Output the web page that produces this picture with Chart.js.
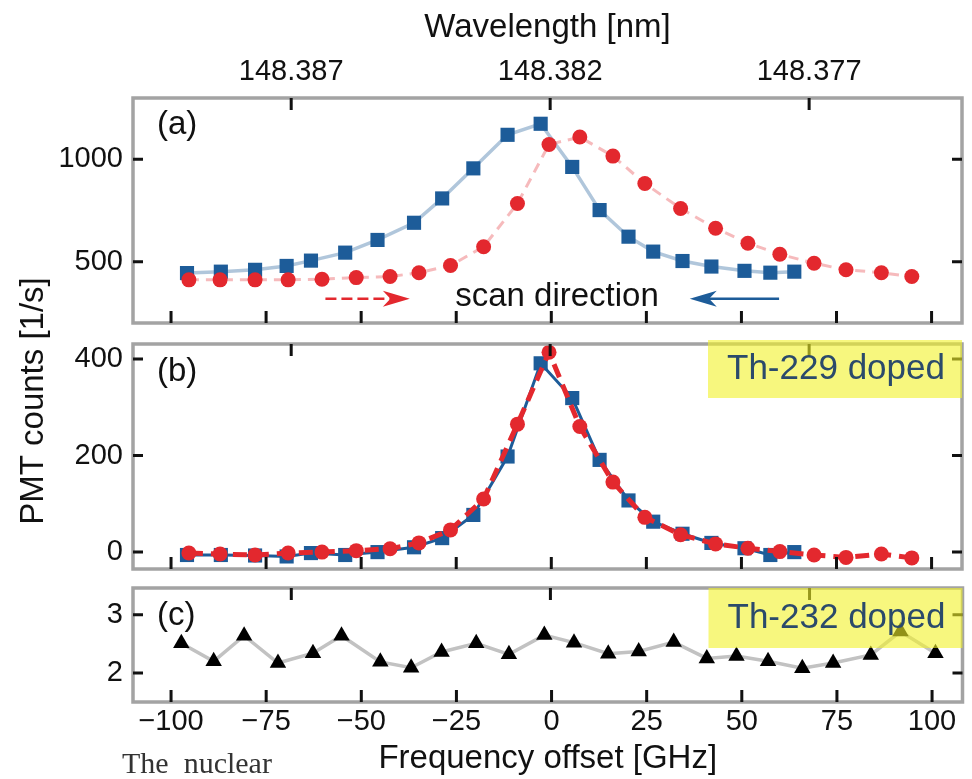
<!DOCTYPE html>
<html>
<head>
<meta charset="utf-8">
<title>PMT counts vs frequency offset</title>
<script src="https://cdn.jsdelivr.net/npm/chart.js"></script>
<style>
    html, body { margin: 0; padding: 0; background: #fff; }
    #stage { position: relative; width: 972px; height: 779px; overflow: hidden; }
    #stage canvas { position: absolute; left: 0; top: 0; }
</style>
</head>
<body>
<div id="stage">
    <canvas id="panelA" width="972" height="779"></canvas>
    <canvas id="panelB" width="972" height="779"></canvas>
    <canvas id="panelC" width="972" height="779"></canvas>
</div>
<script>
// ==========================================
// DATA
// ==========================================

// frequency offset axis [GHz]
const freqRange = [-110, 108];
const freqTicks = [-100, -75, -50, -25, 0, 25, 50, 75, 100];

// secondary wavelength axis: labels and where they fall on the GHz scale
const wavelengthLabels = ['148.387', '148.382', '148.377'];
const wavelengthOffsets = [-68.4, -0.3, 67.8];

// scan points, blue = downward scan, red = upward scan
const freqBlue = [-95.8, -86.9, -77.9, -69.6, -63.2, -54.2, -45.7, -36.1, -28.7, -20.5, -11.5,
    -2.8, 5.5, 12.7, 20.3, 26.8, 34.5, 42.1, 50.8, 57.6, 63.9];
const freqRed = [-95.3, -87.1, -77.9, -69.2, -60.3, -51.3, -42.4, -34.8, -26.5, -17.8, -8.9,
    -0.6, 7.5, 16.2, 24.6, 34.0, 43.2, 51.7, 60.1, 69.1, 77.5, 86.8, 94.8];
const freqTh232 = [-97.3, -88.8, -80.8, -71.9, -62.7, -55.2, -45.0, -36.9, -28.9, -19.8, -11.2,
    -1.9, 5.9, 14.9, 22.9, 32.1, 40.8, 48.6, 56.9, 65.9, 74.0, 83.9, 91.7, 100.9];

// (a) raw counts [1/s]
const rawBlue = [444, 451, 460, 479, 505, 544, 606, 690, 809, 956, 1120,
    1174, 963, 752, 622, 549, 503, 476, 455, 446, 451];
const rawRed = [411, 411, 411, 411, 414, 422, 427, 446, 481, 573, 784,
    1073, 1109, 1016, 882, 760, 663, 590, 536, 492, 460, 446, 427];
const rawTicks = [500, 1000];

// (b) Th-229 doped, background subtracted and shifted
const dopedBlue = [-6, -6, -7, -9, -2, -6, 0, 10, 29, 77, 198,
    391, 319, 191, 107, 63, 38, 19, 8, -6, 0];
const dopedRed = [-2, -4, -6, -2, 0, 3, 7, 19, 46, 110, 265,
    414, 260, 145, 72, 36, 17, 8, 1, -6, -11, -4, -12];
const dopedTicks = [0, 200, 400];

// (c) Th-232 doped reference crystal
const th232Counts = [2.51, 2.20, 2.64, 2.17, 2.34, 2.64, 2.19, 2.09, 2.36, 2.51, 2.32,
    2.65, 2.52, 2.33, 2.37, 2.53, 2.25, 2.29, 2.20, 2.08, 2.17, 2.31, 2.71, 2.34];
const th232Ticks = [2, 3];

// ==========================================
// HELPERS
// ==========================================

const BLUE = '#1d5c99';
const RED = '#e3282e';
const INK = '#111';
const SANS = "'Liberation Sans', Arial, sans-serif";
const TICK_SIZE = 29;
const TITLE_SIZE = 33;

Chart.defaults.font.family = SANS;
Chart.defaults.color = INK;

const toPoints = (xs, ys) => xs.map((x, i) => ({ x: x, y: ys[i] }));

function yAxis(min, max, ticks) {
    return {
        min: min,
        max: max,
        grid: { display: false, drawTicks: false },
        border: { display: false },
        afterBuildTicks: s => { s.ticks = ticks.map(v => ({ value: v })); },
        afterFit: s => { s.width = 133; },
        ticks: { padding: 10, font: { size: TICK_SIZE }, callback: v => String(v) }
    };
}

function hiddenX() {
    return { type: 'linear', min: freqRange[0], max: freqRange[1], display: false };
}

// frame, inward ticks on all four sides and the panel letter
const panelFrame = {
    id: 'panelFrame',
    afterDatasetsDraw(chart, args, opts) {
        const { ctx, chartArea: a, scales } = chart;
        const len = 10;
        ctx.save();
        ctx.strokeStyle = '#a3a3a3';
        ctx.lineWidth = 3.5;
        ctx.strokeRect(a.left, a.top, a.right - a.left, a.bottom - a.top);

        ctx.strokeStyle = INK;
        ctx.lineWidth = 3;
        ctx.beginPath();
        freqTicks.forEach(v => {
            const px = scales.x.getPixelForValue(v);
            ctx.moveTo(px, a.bottom);
            ctx.lineTo(px, a.bottom - len - 2);
        });
        wavelengthOffsets.forEach(v => {
            const px = scales.x.getPixelForValue(v);
            ctx.moveTo(px, a.top);
            ctx.lineTo(px, a.top + len + 2);
        });
        opts.yTicks.forEach(v => {
            const py = scales.y.getPixelForValue(v);
            ctx.moveTo(a.left, py);
            ctx.lineTo(a.left + len, py);
            ctx.moveTo(a.right, py);
            ctx.lineTo(a.right - len, py);
        });
        ctx.stroke();

        ctx.fillStyle = INK;
        ctx.font = '33px ' + SANS;
        ctx.textBaseline = 'middle';
        ctx.fillText(opts.letter, a.left + 24, a.top + opts.letterY);
        ctx.restore();
    }
};

// yellow sample label in the upper right corner
const sampleTag = {
    id: 'sampleTag',
    afterDraw(chart, args, opts) {
        if (!opts.text) return;
        const { ctx, chartArea: a } = chart;
        const w = 254, h = opts.height;
        const top = a.top + opts.shift;
        ctx.save();
        ctx.fillStyle = 'rgba(242, 242, 40, 0.6)';
        ctx.fillRect(a.right - w, top, w, h);
        ctx.fillStyle = '#2b4a6b';
        ctx.font = '35px ' + SANS;
        ctx.textAlign = 'center';
        ctx.textBaseline = 'middle';
        ctx.fillText(opts.text, a.right - w / 2 + 1, top + h / 2);
        ctx.restore();
    }
};

function drawArrow(ctx, x0, x1, y, color, dash) {
    const dir = Math.sign(x1 - x0);
    const head = 27;
    ctx.strokeStyle = color;
    ctx.fillStyle = color;
    ctx.lineWidth = 2.5;
    ctx.setLineDash(dash);
    ctx.beginPath();
    ctx.moveTo(x0, y);
    ctx.lineTo(x1 - dir * head * 0.7, y);
    ctx.stroke();
    ctx.setLineDash([]);
    ctx.beginPath();
    ctx.moveTo(x1, y);
    ctx.lineTo(x1 - dir * head, y - 8);
    ctx.lineTo(x1 - dir * head * 0.72, y);
    ctx.lineTo(x1 - dir * head, y + 8);
    ctx.closePath();
    ctx.fill();
}

// "scan direction" note with the two arrows in panel (a)
const scanNote = {
    id: 'scanNote',
    afterDraw(chart) {
        const { ctx, scales } = chart;
        const x = scales.x, y = scales.y;
        const py = y.getPixelForValue(318);
        ctx.save();
        drawArrow(ctx, x.getPixelForValue(-59.4), x.getPixelForValue(-37.2), py, RED, [11, 5]);
        drawArrow(ctx, x.getPixelForValue(59.9), x.getPixelForValue(36.4), py, BLUE, []);
        ctx.fillStyle = INK;
        ctx.font = '33px ' + SANS;
        ctx.textAlign = 'center';
        ctx.textBaseline = 'middle';
        ctx.fillText('scan direction', x.getPixelForValue(1.5), y.getPixelForValue(328));
        ctx.restore();
    }
};

// shared y-axis title, spans panels (a) and (b)
const countsTitle = {
    id: 'countsTitle',
    afterDraw(chart) {
        const { ctx } = chart;
        ctx.save();
        ctx.translate(34, 401);
        ctx.rotate(-Math.PI / 2);
        ctx.fillStyle = INK;
        ctx.font = TITLE_SIZE + 'px ' + SANS;
        ctx.textAlign = 'center';
        ctx.textBaseline = 'middle';
        ctx.fillText('PMT counts [1/s]', 0, 0);
        ctx.restore();
    }
};

// stray caption text below the axis
const pageText = {
    id: 'pageText',
    afterDraw(chart) {
        const { ctx } = chart;
        ctx.save();
        ctx.fillStyle = '#333';
        ctx.font = "30px 'Liberation Serif', 'Times New Roman', serif";
        ctx.textBaseline = 'middle';
        ctx.fillText('The  nuclear', 122, 765);
        ctx.restore();
    }
};

function baseOptions(padding) {
    return {
        responsive: false,
        animation: false,
        events: [],
        layout: { padding: padding },
        plugins: { legend: { display: false }, tooltip: { enabled: false } }
    };
}

// ==========================================
// PANEL (a) - raw counts, both scan directions
// ==========================================

const optsA = baseOptions({ left: 0, right: 5, top: 0, bottom: 456 });
optsA.scales = {
    x: hiddenX(),
    x2: {
        type: 'linear',
        position: 'top',
        min: freqRange[0],
        max: freqRange[1],
        grid: { display: false, drawTicks: false },
        border: { display: false },
        afterBuildTicks: s => { s.ticks = wavelengthOffsets.map(v => ({ value: v })); },
        afterFit: s => { s.height = 98; },
        ticks: {
            autoSkip: false,
            maxRotation: 0,
            padding: 9,
            font: { size: TICK_SIZE },
            callback: (v, i) => wavelengthLabels[i]
        },
        title: { display: true, text: 'Wavelength [nm]', font: { size: TITLE_SIZE }, padding: { top: 8, bottom: 0 } }
    },
    y: yAxis(200, 1300, rawTicks)
};
optsA.plugins.panelFrame = { letter: '(a)', letterY: 27, yTicks: rawTicks };

new Chart(document.getElementById('panelA'), {
    type: 'line',
    data: {
        datasets: [
            {
                data: toPoints(freqRed, rawRed),
                borderColor: 'rgba(227, 40, 46, 0.32)',
                borderWidth: 3,
                borderDash: [10, 7],
                pointStyle: 'circle',
                pointRadius: 7.5,
                pointBackgroundColor: RED,
                pointBorderWidth: 0,
                tension: 0
            },
            {
                data: toPoints(freqBlue, rawBlue),
                borderColor: 'rgba(29, 92, 153, 0.35)',
                borderWidth: 3.5,
                pointStyle: 'rect',
                pointRadius: 10,
                pointBackgroundColor: BLUE,
                pointBorderWidth: 0,
                tension: 0
            }
        ]
    },
    options: optsA,
    plugins: [panelFrame, scanNote]
});

// ==========================================
// PANEL (b) - Th-229 doped crystal
// ==========================================

const optsB = baseOptions({ left: 0, right: 5, top: 344, bottom: 210 });
optsB.scales = { x: hiddenX(), y: yAxis(-35, 431, dopedTicks) };
optsB.plugins.panelFrame = { letter: '(b)', letterY: 28, yTicks: dopedTicks };
optsB.plugins.sampleTag = { text: 'Th-229 doped', shift: -4, height: 58 };

new Chart(document.getElementById('panelB'), {
    type: 'line',
    data: {
        datasets: [
            {
                data: toPoints(freqRed, dopedRed),
                borderColor: RED,
                borderWidth: 5,
                borderDash: [14, 8],
                pointStyle: 'circle',
                pointRadius: 7.5,
                pointBackgroundColor: RED,
                pointBorderWidth: 0,
                tension: 0
            },
            {
                data: toPoints(freqBlue, dopedBlue),
                borderColor: BLUE,
                borderWidth: 3,
                pointStyle: 'rect',
                pointRadius: 10,
                pointBackgroundColor: BLUE,
                pointBorderWidth: 0,
                tension: 0
            }
        ]
    },
    options: optsB,
    plugins: [panelFrame, sampleTag, countsTitle]
});

// ==========================================
// PANEL (c) - Th-232 doped reference
// ==========================================

const optsC = baseOptions({ left: 0, right: 5, top: 588, bottom: 0 });
optsC.scales = {
    x: {
        type: 'linear',
        min: freqRange[0],
        max: freqRange[1],
        grid: { display: false, drawTicks: false },
        border: { display: false },
        afterBuildTicks: s => { s.ticks = freqTicks.map(v => ({ value: v })); },
        afterFit: s => { s.height = 77; },
        ticks: {
            autoSkip: false,
            maxRotation: 0,
            padding: 3,
            font: { size: TICK_SIZE },
            callback: v => (v < 0 ? '\u2212' + Math.abs(v) : String(v))
        },
        title: { display: true, text: 'Frequency offset [GHz]', font: { size: TITLE_SIZE }, padding: { top: 0, bottom: 0 } }
    },
    y: yAxis(1.5, 3.46, th232Ticks)
};
optsC.plugins.panelFrame = { letter: '(c)', letterY: 28, yTicks: th232Ticks };
optsC.plugins.sampleTag = { text: 'Th-232 doped', shift: 0, height: 60 };

new Chart(document.getElementById('panelC'), {
    type: 'line',
    data: {
        datasets: [
            {
                data: toPoints(freqTh232, th232Counts),
                borderColor: '#c2c2c2',
                borderWidth: 3.5,
                pointStyle: 'triangle',
                pointRadius: 9.5,
                pointBackgroundColor: '#000',
                pointBorderWidth: 0,
                tension: 0
            }
        ]
    },
    options: optsC,
    plugins: [panelFrame, sampleTag, pageText]
});
</script>
</body>
</html>
